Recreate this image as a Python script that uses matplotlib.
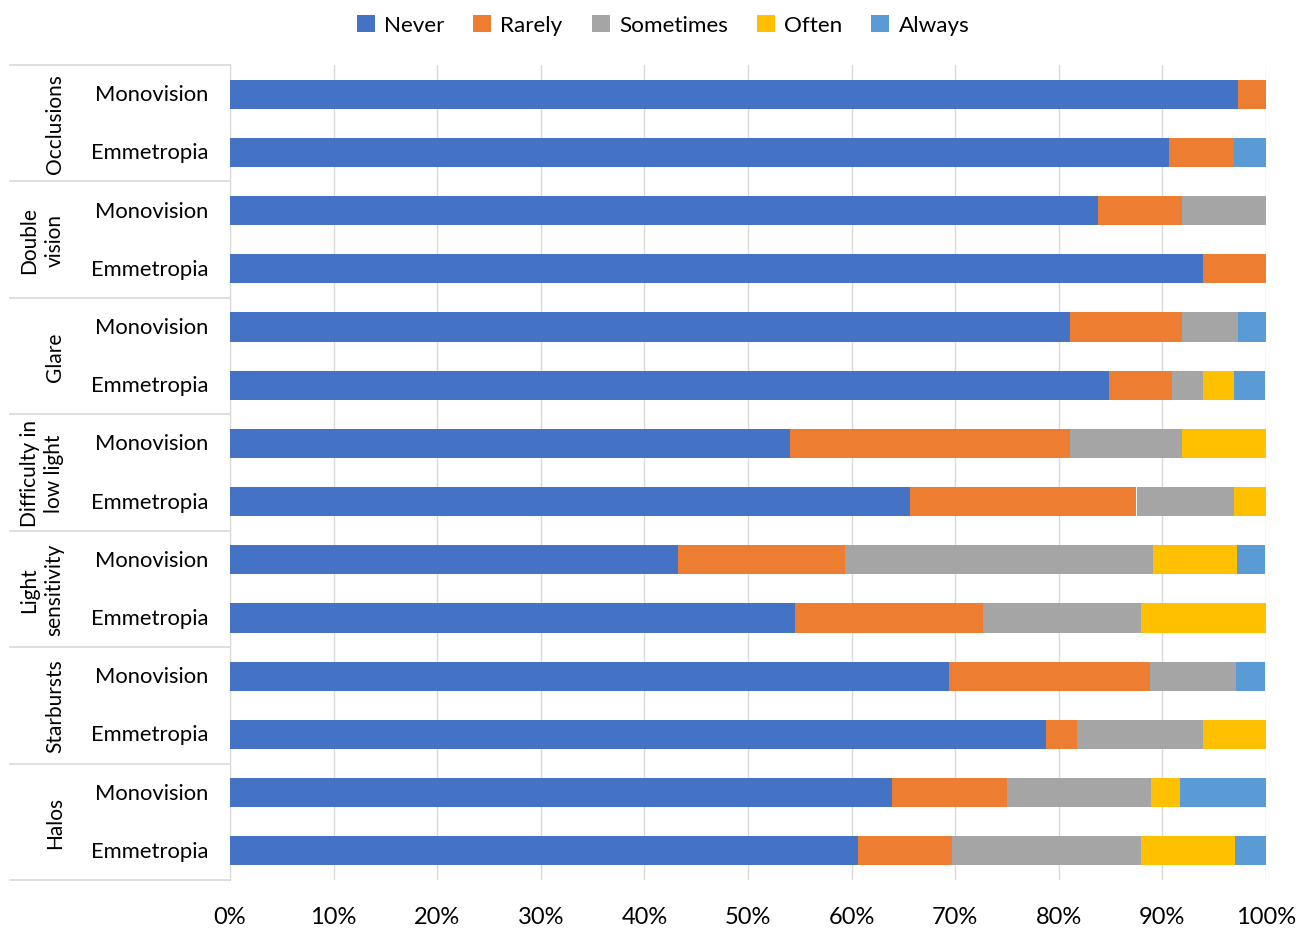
import matplotlib
matplotlib.use("Agg")
import matplotlib.pyplot as plt
import matplotlib.transforms as mtransforms
from matplotlib.lines import Line2D
from matplotlib.ticker import PercentFormatter
import numpy as np

plt.rcParams['font.family'] = ['Lato', 'DejaVu Sans']

symptoms = ['Occlusions', 'Double\nvision', 'Glare', 'Difficulty in\nlow light',
            'Light\nsensitivity', 'Starbursts', 'Halos']
groups = ['Monovision', 'Emmetropia']
responses = ['Never', 'Rarely', 'Sometimes', 'Often', 'Always']
colors = ['#4472C4', '#ED7D31', '#A5A5A5', '#FFC000', '#5B9BD5']

# percent of answers, one row per bar (Monovision then Emmetropia for each symptom)
never     = [97.3, 90.6, 83.8, 93.9, 81.1, 84.8, 54.1, 65.6, 43.2, 54.5, 69.4, 78.8, 63.9, 60.6]
rarely    = [2.7,  6.3,  8.1,  6.1,  10.8, 6.1,  27.0, 21.9, 16.2, 18.2, 19.4, 3.0,  11.1, 9.1]
sometimes = [0.0,  0.0,  8.1,  0.0,  5.4,  3.0,  10.8, 9.4,  29.7, 15.2, 8.3,  12.1, 13.9, 18.2]
often     = [0.0,  0.0,  0.0,  0.0,  0.0,  3.0,  8.1,  3.1,  8.1,  12.1, 0.0,  6.1,  2.8,  9.1]
always    = [0.0,  3.1,  0.0,  0.0,  2.7,  3.0,  0.0,  0.0,  2.7,  0.0,  2.8,  0.0,  8.3,  3.0]

series = [never, rarely, sometimes, often, always]
n_bars = len(never)
y = np.arange(n_bars)

fig = plt.figure(figsize=(13.09, 9.29), dpi=100)
ax = fig.add_axes([230 / 1309, 48 / 929, 1036 / 1309, 815 / 929])

left = np.zeros(n_bars)
for vals, name, c in zip(series, responses, colors):
    vals = np.array(vals)
    ax.barh(y, vals, left=left, height=0.5, color=c, label=name, zorder=3)
    left += vals

ax.set_xlim(0, 100)
ax.set_ylim(n_bars - 0.5, -0.5)
ax.xaxis.set_major_locator(plt.MultipleLocator(10))
ax.xaxis.set_major_formatter(PercentFormatter(decimals=0))
ax.grid(axis='x', color='#D9D9D9', lw=1, zorder=0)
ax.tick_params(axis='x', length=0, labelsize=17, pad=19, colors='black')
ax.set_yticks([])
for s in ['top', 'right', 'bottom']:
    ax.spines[s].set_visible(False)
ax.spines['left'].set_color('#D9D9D9')

# two-level category labels on the left
trans = mtransforms.blended_transform_factory(fig.transFigure, ax.transData)
for i in range(n_bars):
    ax.text(208 / 1309, i, groups[i % 2], transform=trans, ha='right', va='center',
            fontsize=15.8)
for k, name in enumerate(symptoms):
    nlines = name.count('\n') + 1
    xc = (55 - 13 * (nlines - 1)) / 1309
    ax.text(xc, 2 * k + 0.5, name, transform=trans, rotation=90, ha='center',
            va='center', fontsize=15, linespacing=1.3, multialignment='center')
for b in np.arange(-0.5, n_bars + 0.5, 2):
    fig.add_artist(Line2D([10 / 1309, 230 / 1309], [b, b], transform=trans,
                          color='#D9D9D9', lw=1.2))

ax.legend(loc='upper center', bbox_to_anchor=(663 / 1309, 1.005), bbox_transform=fig.transFigure,
          ncol=5, frameon=False, fontsize=16.2, handlelength=0.8, handleheight=0.8,
          handletextpad=0.4, columnspacing=1.3)

fig.savefig('out.png', dpi=100)
